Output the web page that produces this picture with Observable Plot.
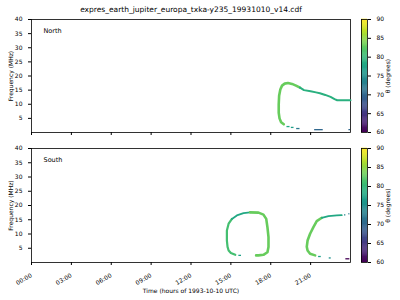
<!DOCTYPE html>
<html><head><meta charset="utf-8">
<script src="https://cdn.jsdelivr.net/npm/d3@7"></script>
<script src="https://cdn.jsdelivr.net/npm/@observablehq/plot@0.6"></script>
<style>
body{margin:0;background:#fff;}
#c{position:relative;width:400px;height:300px;font-family:"DejaVu Sans",sans-serif;overflow:hidden;}
#c svg{position:absolute;left:0;top:0;overflow:visible;background:none;}
#title{position:absolute;left:31px;width:320px;top:5px;text-align:center;font-size:7.5px;color:#000;}
</style></head><body><div id="c"><div id="title">expres_earth_jupiter_europa_txka-y235_19931010_v14.cdf</div></div>
<script>
// ---- axis values ----
const tickHours = [0, 3, 6, 9, 12, 15, 18, 21];
const tickLabels = ["00:00", "03:00", "06:00", "09:00", "12:00", "15:00", "18:00", "21:00"];
const freqTicks = [5, 10, 15, 20, 25, 30, 35, 40];
const thetaTicks = [60, 65, 70, 75, 80, 85, 90];

// ---- North hemisphere curves ----
const n1Hour = [18.98, 18.78, 18.66, 18.6, 18.6, 18.63, 18.72, 18.85, 19.05, 19.3, 19.6, 19.9, 20.2];
const n1Freq = [2.9, 3.6, 5, 7, 10, 13, 15.2, 16.6, 17.3, 17.5, 17.2, 16.6, 15.9];
const n1Theta = 83;
const n2Hour = [20.2, 20.5, 21.0, 21.4, 21.7, 22.1, 22.5, 22.8, 23.0, 23.5, 24.0];
const n2Freq = [15.9, 15.0, 14.6, 14.2, 13.9, 13.3, 12.6, 11.8, 11.4, 11.4, 11.4];
const n2Theta = 79;
const northDashStart = [19.22, 19.55, 19.95, 21.3, 23.88];
const northDashEnd   = [19.45, 19.75, 20.2, 21.95, 24.0];
const northDashFreq  = [2.1, 1.8, 1.4, 1.0, 1.0];
const northDashTheta = [78, 77, 72, 70, 70];

// ---- South hemisphere curves ----
const s1aHour = [15.33, 15.0, 14.83, 14.75, 14.7, 14.7, 14.83, 15.08];
const s1aFreq = [2.7, 3.3, 4.2, 5.5, 7.7, 11.2, 13.6, 15.3];
const s1aTheta = 81;
const s1bHour = [15.08, 15.45, 15.95, 16.45];
const s1bFreq = [15.3, 16.5, 17.3, 17.6];
const s1bTheta = 78;
const s1cHour = [16.45, 17.08, 17.45, 17.66, 17.75, 17.83, 17.83, 17.75, 17.45, 17.08, 16.9];
const s1cFreq = [17.6, 17.5, 16.8, 15.3, 12.4, 8.9, 5.4, 3.6, 2.7, 2.5, 2.5];
const s1cTheta = 83;
const s2aHour = [21.34, 20.96, 20.77, 20.71, 20.77, 20.96, 21.21, 21.46, 21.84];
const s2aFreq = [2.5, 3.05, 4.2, 5.5, 7.7, 10.1, 12.4, 14.5, 15.7];
const s2aTheta = 83;
const s2bHour = [21.84, 22.34, 22.97, 23.34];
const s2bFreq = [15.7, 16.3, 16.5, 16.6];
const s2bTheta = 78;
const southDashStart = [15.6, 21.6, 22.4, 23.55, 23.88, 23.65];
const southDashEnd   = [15.8, 21.8, 22.55, 23.65, 23.95, 23.95];
const southDashFreq  = [2.5, 2.1, 1.6, 16.7, 17.1, 1.3];
const southDashTheta = [77, 77, 75, 74, 72, 60];

// ---- build tables ----
const toRows = (name, hours, freqs, theta, w) => hours.map((h, i) => ({name, hour: h, freq: freqs[i], theta, w}));
const northLines = [
  ...toRows("n1", n1Hour, n1Freq, n1Theta, 2.6),
  ...toRows("n2", n2Hour, n2Freq, n2Theta, 2)
];
const southLines = [
  ...toRows("s1a", s1aHour, s1aFreq, s1aTheta, 2.2),
  ...toRows("s1b", s1bHour, s1bFreq, s1bTheta, 1.8),
  ...toRows("s1c", s1cHour, s1cFreq, s1cTheta, 2.6),
  ...toRows("s2a", s2aHour, s2aFreq, s2aTheta, 2.6),
  ...toRows("s2b", s2bHour, s2bFreq, s2bTheta, 1.8)
];
const dashRows = (s, e, f, t) => s.map((v, i) => ({h1: v, h2: e[i], freq: f[i], theta: t[i]}));
const northDashes = dashRows(northDashStart, northDashEnd, northDashFreq, northDashTheta);
const southDashes = dashRows(southDashStart, southDashEnd, southDashFreq, southDashTheta);

const colorScale = {type: "linear", scheme: "viridis", domain: [60, 90]};
const font = "DejaVu Sans, sans-serif";

function panel(lines, dashes, name, top, bottom, showX) {
  const marks = [
    Plot.frame({stroke: "#000", strokeWidth: 0.8}),
    Plot.text([name], {frameAnchor: "top-left", dx: 12, dy: 9, fontSize: 6.5, fill: "#000"})
  ];
  const groups = d3.group(lines, d => d.name);
  for (const [k, rows] of groups) {
    marks.push(Plot.line(rows, {x: "hour", y: "freq", stroke: "theta", strokeWidth: rows[0].w, curve: "linear"}));
  }
  marks.push(Plot.ruleY(dashes, {y: "freq", x1: "h1", x2: "h2", stroke: "theta", strokeWidth: 1.3}));
  return Plot.plot({
    width: 360, height: 300,
    marginLeft: 31, marginRight: 10, marginTop: top, marginBottom: bottom,
    style: {fontFamily: font, fontSize: "6px", background: "none", color: "#000"},
    x: {domain: [0, 24], ticks: tickHours, tickFormat: (d) => showX ? tickLabels[tickHours.indexOf(d)] : "",
        tickRotate: showX ? -30 : 0, tickSize: 3, label: showX ? "Time (hours of 1993-10-10 UTC)" : null,
        labelAnchor: "center", labelOffset: 30, labelArrow: "none"},
    y: {domain: [0, 40], ticks: freqTicks, tickSize: 3, label: "Frequency (MHz)", labelAnchor: "center", labelOffset: 23, labelArrow: "none"},
    color: colorScale,
    marks
  });
}

function colorbar(top, bottom) {
  const steps = d3.range(60, 90, 0.25);
  return Plot.plot({
    width: 400, height: 300,
    marginLeft: 361, marginRight: 33, marginTop: top, marginBottom: bottom,
    style: {fontFamily: font, fontSize: "6px", background: "none", color: "#000"},
    x: {domain: [0, 1], axis: null},
    y: {domain: [60, 90], ticks: thetaTicks, axis: "right", tickSize: 3, label: "θ (degrees)", labelAnchor: "center", labelOffset: 22, labelArrow: "none"},
    color: colorScale,
    marks: [
      Plot.rect(steps, {x1: 0, x2: 1, y1: d => d, y2: d => d + 0.25, fill: d => d + 0.125, inset: 0, insetTop: -0.3}),
      Plot.frame({stroke: "#000", strokeWidth: 0.8})
    ]
  });
}

const c = document.getElementById("c");
c.appendChild(panel(northLines, northDashes, "North", 19, 168, false));
c.appendChild(panel(southLines, southDashes, "South", 148, 38, true));
c.appendChild(colorbar(19, 168));
c.appendChild(colorbar(148, 38));
</script></body></html>
